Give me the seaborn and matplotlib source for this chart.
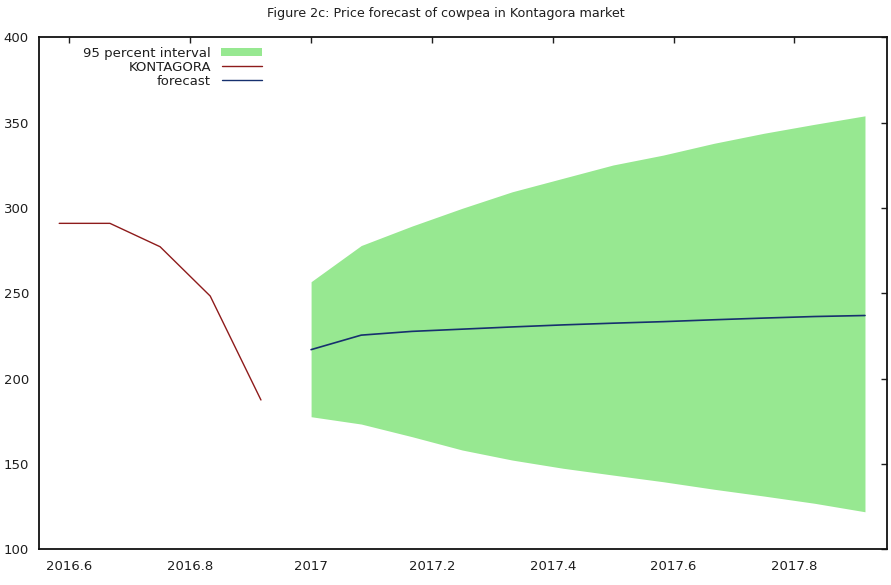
import matplotlib
matplotlib.use("Agg")
import matplotlib.pyplot as plt
import seaborn as sns
import pandas as pd
from matplotlib.patches import Patch
from matplotlib.lines import Line2D

# Observed monthly prices (Aug-Dec 2016), decimal-year time axis
hist_period = [2016.583, 2016.667, 2016.750, 2016.833, 2016.917]
hist_price = [291.0, 291.0, 277.3, 248.4, 187.5]

# Forecast horizon (Jan-Dec 2017)
fc_period = [2017.000, 2017.083, 2017.167, 2017.250, 2017.333, 2017.417,
             2017.500, 2017.583, 2017.667, 2017.750, 2017.833, 2017.917]
fc_price = [217.0, 225.5, 227.7, 229.0, 230.3, 231.5,
            232.5, 233.4, 234.5, 235.5, 236.4, 237.0]
fc_upper = [256.8, 278.0, 289.4, 299.8, 309.5, 317.4,
            325.2, 331.0, 337.9, 343.8, 349.0, 354.0]
fc_lower = [177.7, 173.4, 166.0, 158.2, 152.3, 147.5,
            143.5, 139.6, 135.2, 131.2, 127.0, 122.0]

x_ticks = [2016.6, 2016.8, 2017.0, 2017.2, 2017.4, 2017.6, 2017.8]
x_tick_labels = ["2016.6", "2016.8", "2017", "2017.2", "2017.4", "2017.6", "2017.8"]
y_ticks = [100, 150, 200, 250, 300, 350, 400]

sns.set_style("white")
plt.rcParams["font.family"] = ["DejaVu Sans"]
plt.rcParams["font.size"] = 9

GREEN = "#97e891"
RED = "#8e1b1b"
NAVY = "#16306e"
TEXT = "#1e1e1e"

hist_df = pd.DataFrame({"period": hist_period, "price": hist_price})
fc_df = pd.DataFrame({"period": fc_period, "price": fc_price,
                      "upper": fc_upper, "lower": fc_lower})

fig = plt.figure(figsize=(8.91, 5.85), dpi=100)
ax = fig.add_axes([0.0434, 0.061, 0.9518, 0.8752])

ax.fill_between(fc_df["period"], fc_df["lower"], fc_df["upper"],
                color=GREEN, linewidth=0, zorder=1)
sns.lineplot(data=hist_df, x="period", y="price", ax=ax, color=RED,
             linewidth=1.0, zorder=3)
sns.lineplot(data=fc_df, x="period", y="price", ax=ax, color=NAVY,
             linewidth=1.2, zorder=3)

ax.set_xlim(2016.549, 2017.953)
ax.set_ylim(100, 400)
ax.set_xticks(x_ticks)
ax.set_xticklabels(x_tick_labels)
ax.set_yticks(y_ticks)
ax.set_xlabel("")
ax.set_ylabel("")
ax.tick_params(axis="both", direction="in", length=4, width=1.0,
               top=True, right=True, labelsize=9.5, colors=TEXT)
ax.tick_params(axis="x", pad=8)
ax.tick_params(axis="y", pad=7)
for s in ax.spines.values():
    s.set_visible(True)
    s.set_color("#111111")
    s.set_linewidth(1.3)

fig.text(0.5, 1 - 13 / 585, "Figure 2c: Price forecast of cowpea in Kontagora market",
         ha="center", va="center", fontsize=9.2, color=TEXT)

handles = [Patch(facecolor=GREEN, edgecolor="none"),
           Line2D([], [], color=RED, linewidth=1.0),
           Line2D([], [], color=NAVY, linewidth=1.0)]
labels = ["95 percent interval", "KONTAGORA", "forecast"]
ax.legend(handles, labels, loc="upper right", bbox_to_anchor=(269 / 891, 1 - 40 / 585),
          bbox_transform=fig.transFigure, frameon=False, markerfirst=False,
          borderpad=0, handlelength=3.1, handleheight=0.55, handletextpad=0.8,
          labelspacing=0.08, fontsize=9.5, labelcolor=TEXT)

fig.savefig("out.png", dpi=100)
